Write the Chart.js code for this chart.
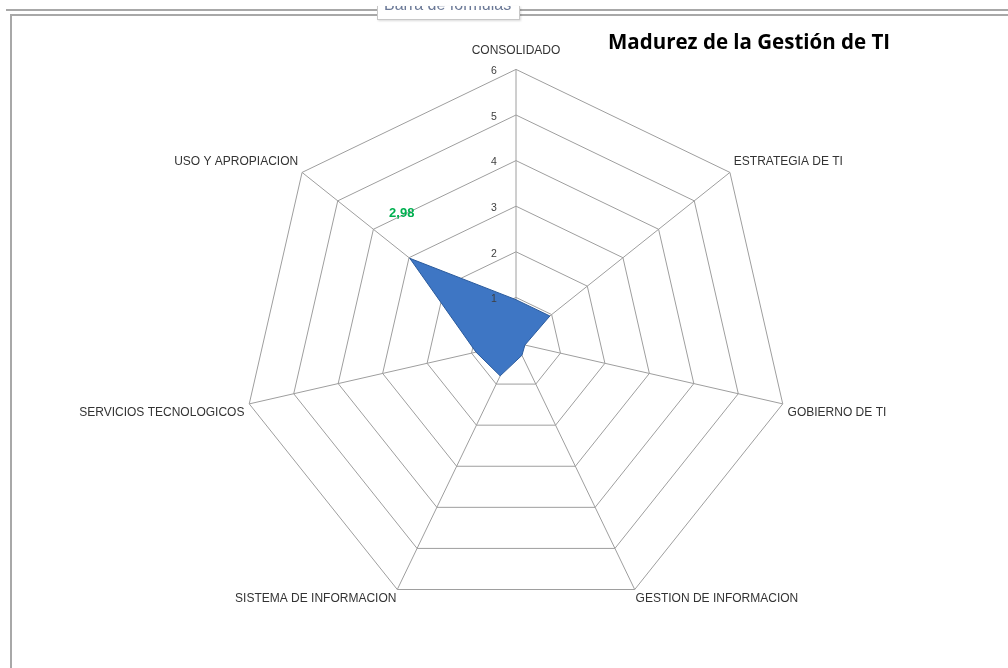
<!DOCTYPE html>
<html>
<head>
<meta charset="utf-8">
<script src="https://cdn.jsdelivr.net/npm/chart.js@4.4.1/dist/chart.umd.min.js"></script>
<style>
  html, body { margin: 0; padding: 0; background: #fff; }
  body { width: 1008px; height: 668px; position: relative; overflow: hidden; font-family: "Liberation Sans", Arial, sans-serif; }
  #wrap { position: absolute; left: 0; top: 0; width: 1008px; height: 668px; }
  .line { position: absolute; background: #a8a8a8; }
  #tip { position: absolute; left: 377px; top: 6px; width: 141px; height: 13px; background: #fff;
         border: 1px solid #c8c8c8; border-top: none; box-shadow: 1px 1px 2px rgba(0,0,0,0.15); overflow: hidden; }
  #tip span { position: absolute; left: 6px; top: -10px; font-size: 16px; line-height: 18px; color: #6a7896; white-space: nowrap; }
  #title { position: absolute; left: 608px; top: 27px; font-family: "Open Sans", sans-serif; font-size: 20.5px; font-weight: bold; color: #000; white-space: nowrap; }
</style>
</head>
<body>
<div class="line" style="left:6px;top:9px;width:1002px;height:2px;"></div>
<div class="line" style="left:10px;top:14px;width:998px;height:2px;"></div>
<div class="line" style="left:10px;top:14px;width:2px;height:654px;"></div>
<div id="wrap"><canvas id="radar" width="1008" height="668"></canvas></div>
<div id="tip"><span>Barra de fórmulas</span></div>
<div id="title">Madurez de la Gestión de TI</div>
<script>
// categories (clockwise from the top)
const categories = [
    "CONSOLIDADO",
    "ESTRATEGIA DE TI",
    "GOBIERNO DE TI",
    "GESTION DE INFORMACION",
    "SISTEMA DE INFORMACION",
    "SERVICIOS TECNOLOGICOS",
    "USO Y APROPIACION"
];
// maturity level per category
const maturity = [0.95, 0.95, 0.2, 0.3, 0.8, 0.9, 2.98];
const tickValues = [1, 2, 3, 4, 5, 6];

// tick numbers sit a little to the left of the vertical spoke
const tickLabelsPlugin = {
    id: 'tickLabels',
    afterDatasetsDraw(chart) {
        const scale = chart.scales.r;
        const ctx = chart.ctx;
        ctx.save();
        ctx.font = '10.5px "Liberation Sans", Arial, sans-serif';
        ctx.fillStyle = '#404040';
        ctx.textAlign = 'center';
        ctx.textBaseline = 'middle';
        tickValues.forEach(v => {
            const d = scale.getDistanceFromCenterForValue(v);
            ctx.fillText(String(v), scale.xCenter - 22, scale.yCenter - d + 2);
        });
        ctx.restore();
    }
};

// only the highest value gets a label, in green, like the original
const valueLabelPlugin = {
    id: 'valueLabel',
    afterDatasetsDraw(chart) {
        const meta = chart.getDatasetMeta(0);
        let maxIdx = 0;
        maturity.forEach((v, i) => { if (v > maturity[maxIdx]) maxIdx = i; });
        const pt = meta.data[maxIdx];
        const ctx = chart.ctx;
        ctx.save();
        ctx.font = 'bold 13px "Liberation Sans", Arial, sans-serif';
        ctx.fillStyle = '#00b050';
        ctx.textAlign = 'center';
        ctx.textBaseline = 'middle';
        ctx.fillText(maturity[maxIdx].toFixed(2).replace('.', ','), pt.x - 8, pt.y - 45);
        ctx.restore();
    }
};

new Chart(document.getElementById('radar').getContext('2d'), {
    type: 'radar',
    data: {
        labels: categories,
        datasets: [{
            label: "Madurez",
            data: maturity,
            backgroundColor: '#3e76c4',
            borderColor: '#2a5a9c',
            borderWidth: 1,
            pointRadius: 0,
            fill: true
        }]
    },
    options: {
        responsive: false,
        animation: false,
        layout: { padding: { left: 24, right: 0, top: 30, bottom: 38 } },
        plugins: {
            legend: { display: false },
            tooltip: { enabled: false }
        },
        scales: {
            r: {
                min: 0,
                max: 6,
                ticks: { display: false, stepSize: 1 },
                grid: { color: '#9e9e9e', lineWidth: 1 },
                angleLines: { color: '#9e9e9e', lineWidth: 1 },
                pointLabels: {
                    color: '#333333',
                    // Excel puts the labels at slightly different gaps
                    padding: (ctx) => ctx.index === 0 ? 12 : (ctx.index === 3 || ctx.index === 4 ? 2 : 5),
                    font: { family: '"Liberation Sans", Arial, sans-serif', size: 12 }
                }
            }
        }
    },
    plugins: [tickLabelsPlugin, valueLabelPlugin]
});
</script>
</body>
</html>
